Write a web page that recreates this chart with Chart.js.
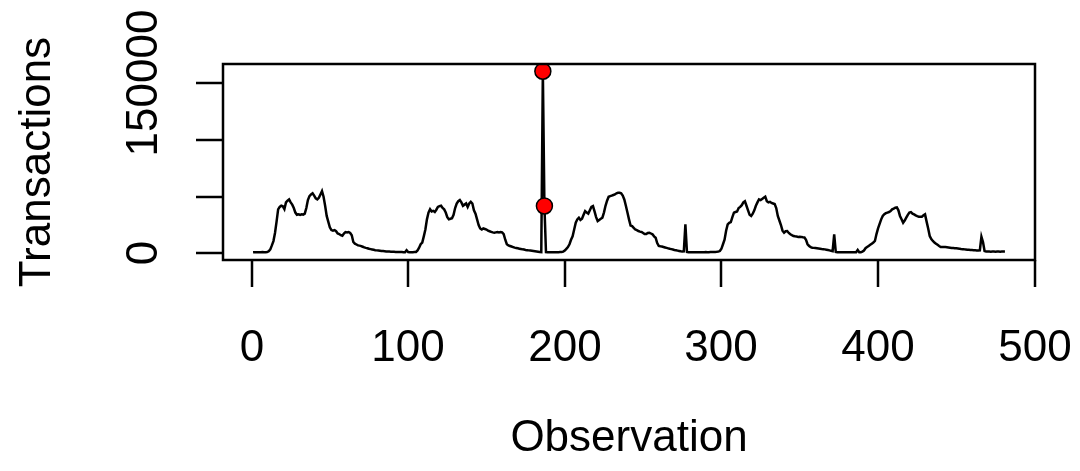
<!DOCTYPE html>
<html>
<head>
<meta charset="utf-8">
<script src="https://cdn.jsdelivr.net/npm/chart.js@4.4.1/dist/chart.umd.min.js"></script>
<style>
  html, body { margin: 0; padding: 0; background: #ffffff; }
  #wrap { width: 1080px; height: 471px; position: relative; }
</style>
</head>
<body>
<div id="wrap"><canvas id="c" width="1080" height="471"></canvas></div>
<script>
// ---- data ----
const transactions = [
  900,1000,950,1000,1050,1000,1100,1000,1050,1200,
  1800,3500,7000,10800,18000,28000,38800,41000,42000,41500,
  39000,45000,46500,47600,45000,43000,40000,36000,34000,34400,
  34000,34500,34200,35000,40000,47000,50500,52000,53000,51000,
  48500,47600,49000,52000,55000,50000,42000,33000,28000,23000,
  20500,20000,20500,19500,17500,17000,16000,15500,17500,18800,
  18500,18800,18000,16000,10000,8500,7800,7000,6800,6400,
  5800,5200,4800,4500,4000,3700,3400,3100,2800,2600,
  2500,2300,2100,2000,1900,1700,1600,1500,1400,1300,
  1300,1200,1200,1100,1100,1100,1000,1000,2800,1100,
  1000,1000,1000,1100,1200,2500,5000,8000,9500,15000,
  21000,30000,36000,39000,37000,37500,36500,38500,41000,41700,
  42000,40000,38800,36000,32000,30000,30500,31000,34000,40000,
  44000,46000,47000,45000,42000,43000,44000,41000,44000,45500,
  44000,38000,35000,30000,25000,22000,21000,22000,21500,21000,
  20000,19500,19000,18500,18200,18500,18800,18500,18800,18500,
  17000,12000,8000,7000,6500,6000,5500,5000,4700,4400,
  4100,3800,3500,3300,3000,2800,2600,2400,2200,2000,
  1800,1600,1400,1200,1100,160800,41800,1100,1000,1000,
  950,1000,1000,1050,1000,1000,1100,1200,1500,2500,
  4000,5500,8000,12000,15000,21000,27000,30000,31500,29500,
  30500,34000,37300,36000,35000,38000,41000,41700,37000,32000,
  28500,29500,30500,31500,36000,42000,46500,50000,50500,51000,
  51500,52000,53000,53500,53500,53000,51000,47600,42000,36000,
  30000,24500,24000,22500,21000,20500,19700,19200,18800,18000,
  17000,17000,18000,18200,17500,16800,15000,13800,9000,6500,
  6200,6000,5600,5200,4800,4400,4000,3700,3400,3000,
  2700,2400,2100,1800,1700,1800,25600,1200,1000,1000,
  1000,950,1000,1000,1000,1050,1000,1000,1000,1100,
  1000,1000,1100,1100,1200,1200,1300,1500,2000,4000,
  8000,12000,20000,25600,27000,27600,32000,35900,36500,37000,
  40000,41000,42500,45000,46000,42000,38000,34000,33000,35000,
  38000,42000,45000,47600,47000,48000,49000,50000,46000,45000,
  45500,44500,44000,43500,40000,33000,29000,25000,20000,18200,
  19500,19700,18000,16800,16000,15300,15000,14800,14500,14600,
  14500,14200,14000,12000,8000,6500,5500,5000,4800,4600,
  4400,4200,4000,3800,3700,3500,3200,2900,2600,2200,
  1900,16800,1200,1000,1000,950,1000,1000,1000,1050,
  1000,1000,1000,1000,1000,1000,3000,1000,1000,1500,
  2500,4500,5500,6500,7500,8500,9500,10900,17000,22000,
  26000,30000,33000,34500,35500,36000,36500,37300,38800,39500,
  40300,40500,38000,33000,30000,27000,29000,31500,34000,36000,
  36400,35000,34400,33500,32800,32400,32400,32400,33500,34400,
  28000,22000,15300,12500,10900,9500,8500,7500,6500,5600,
  5600,5500,5600,5400,5200,5000,4800,4700,4500,4400,
  4200,4000,3800,3700,3500,3400,3200,3100,3000,2900,
  2800,2700,2600,2600,2700,14700,10000,2000,1500,1500,
  1500,1450,1500,1500,1450,1500,1500,1450,1500,1500,1500
];
// highlighted observations (red points)
const highlightObs = [186, 187];
const highlightVals = [160800, 41800];

const xTickValues = [0, 100, 200, 300, 400, 500];
const xTickLabels = ["0", "100", "200", "300", "400", "500"];
const yTickValues = [0, 50000, 100000, 150000];
const yTickLabels = ["0", "", "", "150000"];
const xTitle = "Observation";
const yTitle = "Transactions";

// ---- build library data ----
const linePoints = transactions.map((v, i) => ({ x: i + 1, y: v }));
const redPoints = highlightObs.map((o, i) => ({ x: o, y: highlightVals[i] }));

const FONT = '44px "Liberation Sans", Arial, Helvetica, sans-serif';
const TICK = 27;

const rAxes = {
  id: 'rAxes',
  afterDraw(chart) {
    const ctx = chart.ctx, a = chart.chartArea;
    const xs = chart.scales.x, ys = chart.scales.y;
    ctx.save();
    ctx.strokeStyle = '#000';
    ctx.lineWidth = 2.5;
    ctx.lineCap = 'butt';
    ctx.lineJoin = 'miter';
    // box
    ctx.strokeRect(a.left, a.top, a.right - a.left, a.bottom - a.top);
    ctx.fillStyle = '#000';
    ctx.font = FONT;
    // x axis ticks + labels
    ctx.textAlign = 'center';
    ctx.textBaseline = 'alphabetic';
    xTickValues.forEach((v, i) => {
      const px = Math.round(xs.getPixelForValue(v));
      ctx.beginPath();
      ctx.moveTo(px, a.bottom);
      ctx.lineTo(px, a.bottom + TICK);
      ctx.stroke();
      ctx.fillText(xTickLabels[i], px, 361);
    });
    // y axis ticks + labels (rotated)
    yTickValues.forEach((v, i) => {
      const py = Math.round(ys.getPixelForValue(v));
      ctx.beginPath();
      ctx.moveTo(a.left, py);
      ctx.lineTo(a.left - TICK, py);
      ctx.stroke();
      if (yTickLabels[i]) {
        ctx.save();
        ctx.translate(157, py);
        ctx.rotate(-Math.PI / 2);
        ctx.textAlign = 'center';
        ctx.fillText(yTickLabels[i], 0, 0);
        ctx.restore();
      }
    });
    // titles
    ctx.textAlign = 'center';
    ctx.fillText(xTitle, (a.left + a.right) / 2, 451);
    ctx.save();
    ctx.translate(50, (a.top + a.bottom) / 2);
    ctx.rotate(-Math.PI / 2);
    ctx.fillText(yTitle, 0, 0);
    ctx.restore();
    ctx.restore();
  }
};

new Chart(document.getElementById('c'), {
  type: 'line',
  data: {
    datasets: [
      {
        label: 'highlight',
        data: redPoints,
        showLine: false,
        pointRadius: 8,
        pointBackgroundColor: '#ff0000',
        pointBorderColor: '#000000',
        pointBorderWidth: 1.5,
        order: 0
      },
      {
        label: 'Transactions',
        data: linePoints,
        borderColor: '#000000',
        borderWidth: 2.5,
        pointRadius: 0,
        tension: 0,
        fill: false,
        order: 1
      }
    ]
  },
  options: {
    responsive: false,
    animation: false,
    devicePixelRatio: 1,
    layout: { padding: { left: 223, top: 64, right: 45, bottom: 211 } },
    plugins: { legend: { display: false }, tooltip: { enabled: false } },
    scales: {
      x: { type: 'linear', min: -18.2, max: 500.2, display: false },
      y: { type: 'linear', min: -5900, max: 167200, display: false }
    }
  },
  plugins: [rAxes]
});
</script>
</body>
</html>
